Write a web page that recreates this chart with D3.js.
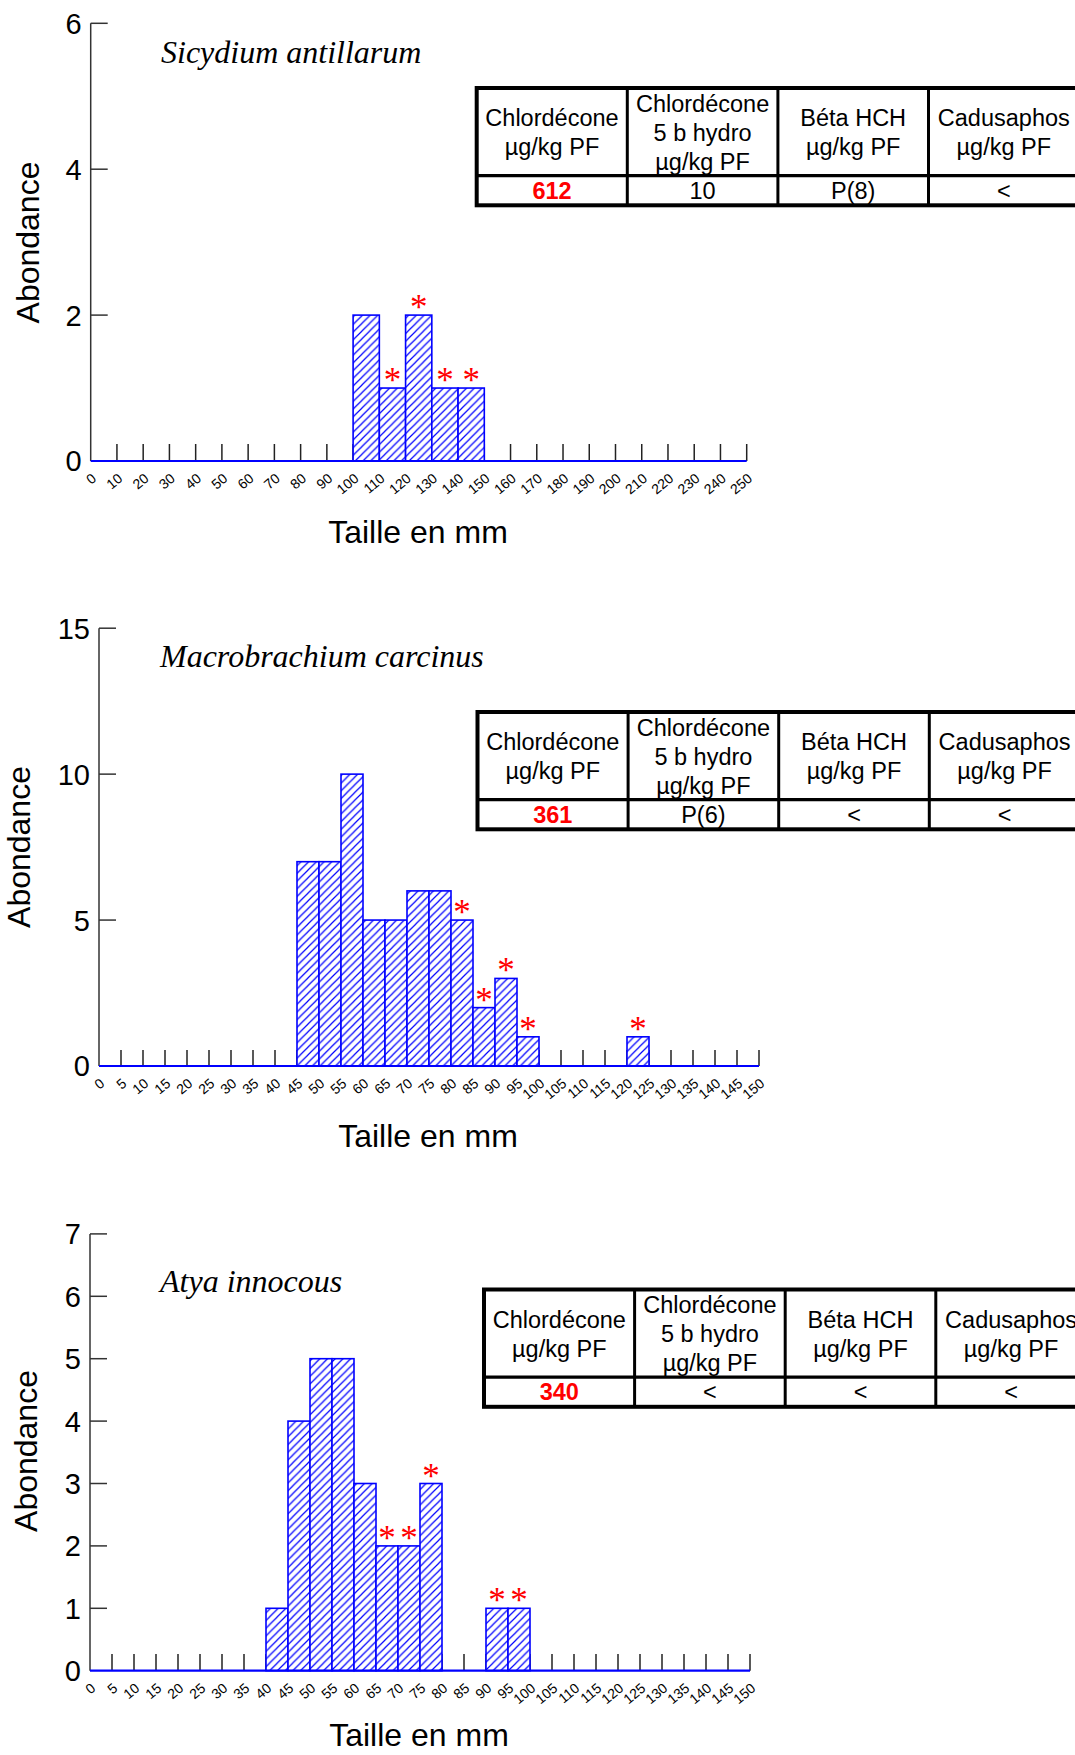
<!DOCTYPE html>
<html>
<head>
<meta charset="utf-8">
<script src="https://cdn.jsdelivr.net/npm/d3@7"></script>
<style>
  body { margin: 0; background: #fff; }
  svg { display: block; }
</style>
</head>
<body>
<svg id="fig" width="1075" height="1755"></svg>
<script>
// ---- Size-class histograms (lower bound of each class in mm, abundance) ----
const sicydiumBins   = [100, 110, 120, 130, 140];
const sicydiumCounts = [2, 1, 2, 1, 1];
const sicydiumMarked = [false, true, true, true, true];

const macroBins   = [45, 50, 55, 60, 65, 70, 75, 80, 85, 90, 95, 120];
const macroCounts = [7, 7, 10, 5, 5, 6, 6, 5, 2, 3, 1, 1];
const macroMarked = [false, false, false, false, false, false, false, true, true, true, true, true];

const atyaBins   = [40, 45, 50, 55, 60, 65, 70, 75, 90, 95];
const atyaCounts = [1, 4, 5, 5, 3, 2, 2, 3, 1, 1];
const atyaMarked = [false, false, false, false, false, true, true, true, true, true];

// ---- Axis tick labels ----
const sizeTicks10 = [0, 10, 20, 30, 40, 50, 60, 70, 80, 90, 100, 110, 120, 130, 140, 150,
                     160, 170, 180, 190, 200, 210, 220, 230, 240, 250];
const sizeTicks5  = [0, 5, 10, 15, 20, 25, 30, 35, 40, 45, 50, 55, 60, 65, 70, 75, 80, 85, 90, 95,
                     100, 105, 110, 115, 120, 125, 130, 135, 140, 145, 150];
const sicydiumAbTicks = [0, 2, 4, 6];
const macroAbTicks    = [0, 5, 10, 15];
const atyaAbTicks     = [0, 1, 2, 3, 4, 5, 6, 7];

// ---- Residue tables ----
const residueHeaders = [
  ["Chlordécone", "µg/kg PF"],
  ["Chlordécone", "5 b hydro", "µg/kg PF"],
  ["Béta HCH", "µg/kg PF"],
  ["Cadusaphos", "µg/kg PF"]
];
const sicydiumResidues = ["612", "10", "P(8)", "<"];
const macroResidues    = ["361", "P(6)", "<", "<"];
const atyaResidues     = ["340", "<", "<", "<"];

const SANS = "'Liberation Sans', Arial, sans-serif";
const SERIF = "'Liberation Serif', 'Times New Roman', serif";
const BLUE = "#0000ff";
const RED = "#ff0000";

const svg = d3.select("#fig");

// diagonal hatch used to fill the bars
const defs = svg.append("defs");
const hp = defs.append("pattern")
  .attr("id", "hatch")
  .attr("patternUnits", "userSpaceOnUse")
  .attr("width", 7.7).attr("height", 7.7);
hp.append("rect").attr("width", 7.7).attr("height", 7.7).attr("fill", "#fff");
hp.append("path")
  .attr("d", "M-1,1 L1,-1 M0,7.7 L7.7,0 M6.7,8.7 L8.7,6.7")
  .attr("stroke", BLUE).attr("stroke-width", 1.2).attr("fill", "none");

function drawPanel(p) {
  const g = svg.append("g");
  const x = d3.scaleLinear().domain([0, p.xMax]).range([p.x0, p.x1]);
  const y = d3.scaleLinear().domain([0, p.yMax]).range([p.yBase, p.yTop]);

  // vertical axis
  g.append("line")
    .attr("x1", x(0)).attr("x2", x(0))
    .attr("y1", y(0)).attr("y2", y(p.yMax))
    .attr("stroke", "#333").attr("stroke-width", 1.5);
  g.selectAll(".ytick").data(p.yTicks.filter(v => v > 0)).join("line")
    .attr("x1", x(0)).attr("x2", x(0) + 17)
    .attr("y1", d => y(d)).attr("y2", d => y(d))
    .attr("stroke", "#333").attr("stroke-width", 1.5);
  g.selectAll(".ylab").data(p.yTicks).join("text")
    .attr("x", x(0) - 9).attr("y", d => y(d))
    .attr("dy", "0.36em")
    .attr("text-anchor", "end")
    .attr("font-family", SANS).attr("font-size", 29)
    .attr("fill", "#000")
    .text(d => d);

  // size-class ticks on the horizontal axis
  g.selectAll(".xtick").data(p.xTicks.filter(v => v > 0)).join("line")
    .attr("x1", d => x(d)).attr("x2", d => x(d))
    .attr("y1", y(0)).attr("y2", y(0) - p.tickLen)
    .attr("stroke", "#222").attr("stroke-width", 1.5);

  // hatched bars
  const bars = p.bins.map((b, i) => ({ b, c: p.counts[i], m: p.marked[i] }));
  g.selectAll(".bar").data(bars).join("rect")
    .attr("x", d => x(d.b))
    .attr("y", d => y(d.c))
    .attr("width", d => x(d.b + p.binW) - x(d.b))
    .attr("height", d => y(0) - y(d.c))
    .attr("fill", "url(#hatch)")
    .attr("stroke", BLUE).attr("stroke-width", 1.6);

  // horizontal axis line
  g.append("line")
    .attr("x1", x(0)).attr("x2", x(p.xMax))
    .attr("y1", y(0)).attr("y2", y(0))
    .attr("stroke", BLUE).attr("stroke-width", 2.2);

  // slanted size labels
  g.selectAll(".xlab").data(p.xTicks).join("text")
    .attr("transform", d => `translate(${x(d) + 6.5},${y(0) + 19}) rotate(-40)`)
    .attr("text-anchor", "end")
    .attr("font-family", SANS).attr("font-size", 14)
    .attr("fill", "#000")
    .text(d => d);

  // red asterisks over flagged classes
  g.selectAll(".star").data(bars.filter(d => d.m)).join("text")
    .attr("x", d => (x(d.b) + x(d.b + p.binW)) / 2)
    .attr("y", d => y(d.c) + 4)
    .attr("text-anchor", "middle")
    .attr("font-family", SERIF).attr("font-size", 35)
    .attr("fill", RED)
    .text("*");

  // species name
  g.append("text")
    .attr("x", p.titleX).attr("y", p.titleY)
    .attr("font-family", SERIF).attr("font-style", "italic").attr("font-size", 32)
    .attr("fill", "#000")
    .text(p.title);

  // axis titles
  g.append("text")
    .attr("x", p.xTitleX).attr("y", p.xTitleY)
    .attr("text-anchor", "middle")
    .attr("font-family", SANS).attr("font-size", 32)
    .attr("fill", "#000")
    .text("Taille en mm");
  g.append("text")
    .attr("transform", `translate(${p.yTitleX},${p.yTitleY}) rotate(-90)`)
    .attr("text-anchor", "middle")
    .attr("dy", "0.36em")
    .attr("font-family", SANS).attr("font-size", 32)
    .attr("fill", "#000")
    .text("Abondance");

  drawTable(p.table, p.residues);
}

function drawTable(t, values) {
  const g = svg.append("g");
  const colW = 150.6, headH = 87.6, rowH = 29.7;
  const n = residueHeaders.length;
  const W = colW * n, H = headH + rowH;

  g.append("rect")
    .attr("x", t.left).attr("y", t.top).attr("width", W).attr("height", H)
    .attr("fill", "#fff").attr("stroke", "#000").attr("stroke-width", 4);
  g.append("line")
    .attr("x1", t.left).attr("x2", t.left + W)
    .attr("y1", t.top + headH).attr("y2", t.top + headH)
    .attr("stroke", "#000").attr("stroke-width", 3.2);
  g.selectAll(".csep").data(d3.range(1, n)).join("line")
    .attr("x1", i => t.left + i * colW).attr("x2", i => t.left + i * colW)
    .attr("y1", t.top).attr("y2", t.top + H)
    .attr("stroke", "#000").attr("stroke-width", 3);

  residueHeaders.forEach((lines, i) => {
    const cx = t.left + (i + 0.5) * colW;
    const mid = t.top + 52.8;
    lines.forEach((s, k) => {
      g.append("text")
        .attr("x", cx).attr("y", mid + (k - (lines.length - 1) / 2) * 29)
        .attr("text-anchor", "middle")
        .attr("font-family", SANS).attr("font-size", 23.5)
        .attr("fill", "#000")
        .text(s);
    });
  });
  values.forEach((v, i) => {
    g.append("text")
      .attr("x", t.left + (i + 0.5) * colW)
      .attr("y", t.top + headH + rowH / 2 + 8.4)
      .attr("text-anchor", "middle")
      .attr("font-family", SANS).attr("font-size", 23.5)
      .attr("font-weight", i === 0 ? "bold" : "normal")
      .attr("fill", i === 0 ? RED : "#000")
      .text(v);
  });
}

drawPanel({
  bins: sicydiumBins, counts: sicydiumCounts, marked: sicydiumMarked, binW: 10,
  xMax: 250, xTicks: sizeTicks10, yMax: 6, yTicks: sicydiumAbTicks,
  x0: 90.7, x1: 746.7, yBase: 461, yTop: 23.3, tickLen: 17,
  title: "Sicydium antillarum", titleX: 161, titleY: 63.3,
  xTitleX: 418, xTitleY: 543, yTitleX: 27, yTitleY: 242.5,
  table: { left: 476.7, top: 88 }, residues: sicydiumResidues
});

drawPanel({
  bins: macroBins, counts: macroCounts, marked: macroMarked, binW: 5,
  xMax: 150, xTicks: sizeTicks5, yMax: 15, yTicks: macroAbTicks,
  x0: 99, x1: 759, yBase: 1066, yTop: 628.2, tickLen: 16,
  title: "Macrobrachium carcinus", titleX: 160, titleY: 667.4,
  xTitleX: 428, xTitleY: 1147, yTitleX: 18, yTitleY: 847,
  table: { left: 477.5, top: 712 }, residues: macroResidues
});

drawPanel({
  bins: atyaBins, counts: atyaCounts, marked: atyaMarked, binW: 5,
  xMax: 150, xTicks: sizeTicks5, yMax: 7, yTicks: atyaAbTicks,
  x0: 90, x1: 750, yBase: 1670.7, yTop: 1233.9, tickLen: 16.7,
  title: "Atya innocous", titleX: 160, titleY: 1292,
  xTitleX: 419, xTitleY: 1746, yTitleX: 25, yTitleY: 1451,
  table: { left: 484, top: 1289.5 }, residues: atyaResidues
});
</script>
</body>
</html>
